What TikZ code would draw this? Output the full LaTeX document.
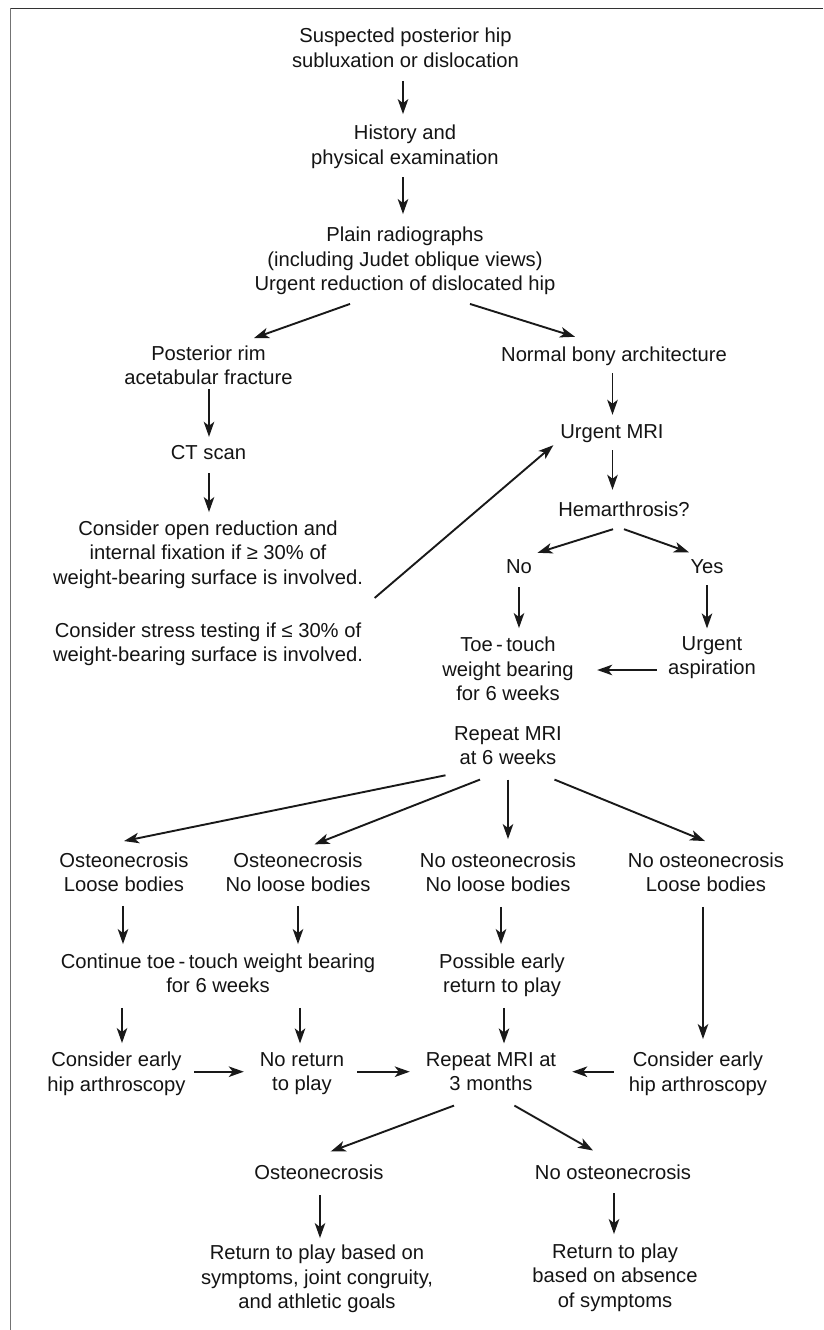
\documentclass[tikz,border=0pt]{standalone}
\usepackage{fontspec}
\setmainfont{Liberation Sans}
\usetikzlibrary{arrows.meta,calc}
\tikzset{
  txt/.style={align=center, inner sep=0pt, text=black!92,
    font=\fontsize{20.2}{24.5}\selectfont,
    execute at begin node=\strut, execute at end node=\strut},
  arr/.style={-{Stealth[length=15pt,width=10.5pt,inset=4pt]}, line width=1.9pt, draw=black!90},
  frametop/.style={line width=1.4pt, draw=black!80},
  frameleft/.style={line width=0.9pt, draw=black!55}
}
\begin{document}
\begin{tikzpicture}[x=1pt,y=-1pt]
\useasboundingbox (0,0) rectangle (823,1330);
\fill[white] (0,0) rectangle (823,1330);
% frame
\coordinate (fc) at (10.5,8.5);
\coordinate (ftr) at (823,8.5);
\coordinate (fbl) at (10.5,1330);
\draw[frametop] (fc) -- (ftr);
\draw[frameleft] (fc) -- (fbl);

% nodes
\node[txt] (susp) at (405.5,51.6) {Suspected posterior hip\\subluxation or dislocation};
\node[txt] (hist) at (405,148.6) {History and\\physical examination};
\node[txt] (plain) at (405,262.6) {Plain radiographs\\(including Judet oblique views)\\Urgent reduction of dislocated hip};
\node[txt] (post) at (208.5,369.1) {Posterior rim\\acetabular fracture};
\node[txt] (norm) at (614,356.6) {Normal bony architecture};
\node[txt] (umri) at (612,433.6) {Urgent MRI};
\node[txt] (ct) at (208.5,454.6) {CT scan};
\node[txt] (hem) at (624,511.1) {Hemarthrosis?};
\node[txt] (orif) at (208,556.1) {Consider open reduction and\\internal fixation if ≥ 30\% of\\weight-bearing surface is involved.};
\node[txt] (no) at (519,568.6) {No};
\node[txt] (yes) at (707,568.1) {Yes};
\node[txt] (stress) at (208,645.6) {Consider stress testing if ≤ 30\% of\\weight-bearing surface is involved.};
\node[txt] (toe) at (508,672.35) {Toe\,-\,touch\\weight bearing\\for 6 weeks};
\node[txt] (asp) at (712,659.1) {Urgent\\aspiration};
\node[txt] (rep6) at (508,749.35) {Repeat MRI\\at 6 weeks};
\node[txt] (a1) at (124,875.8) {Osteonecrosis\\Loose bodies};
\node[txt] (a2) at (298,875.8) {Osteonecrosis\\No loose bodies};
\node[txt] (a3) at (498,875.8) {No osteonecrosis\\No loose bodies};
\node[txt] (a4) at (706,875.8) {No osteonecrosis\\Loose bodies};
\node[txt] (cont) at (218,976.6) {Continue toe\,-\,touch weight bearing\\for 6 weeks};
\node[txt] (poss) at (502,976.6) {Possible early\\return to play};
\node[txt] (c1) at (116.5,1075.35) {Consider early\\hip arthroscopy};
\node[txt] (c2) at (302,1075.35) {No return\\to play};
\node[txt] (c3) at (491,1075.35) {Repeat MRI at\\3 months};
\node[txt] (c4) at (698,1075.35) {Consider early\\hip arthroscopy};
\node[txt] (d1) at (319,1174.6) {Osteonecrosis};
\node[txt] (d2) at (613,1174.6) {No osteonecrosis};
\node[txt] (e1) at (317,1280.6) {Return to play based on\\symptoms, joint congruity,\\and athletic goals};
\node[txt] (e2) at (615,1279.1) {Return to play\\based on absence\\of symptoms};

% connectors
\draw[arr] ($(susp.south)+(-2.5,5.9)$) -- ($(hist.north)+(-2,-11)$);
\draw[arr] ($(hist.south)+(-2,5)$) -- ($(plain.north)+(-2,-12.85)$);
\draw[arr] ($(plain.south)+(-55,5.65)$) -- ($(post.north)+(45.5,-7.6)$);
\draw[arr] ($(plain.south)+(65,5.65)$) -- ($(norm.north)+(-39,-7.35)$);
\draw[arr] ($(post.south)+(0.5,-3.6)$) -- ($(ct.north)+(0.5,-5.35)$);
\draw[arr] ($(ct.south)+(0.5,6)$) -- ($(orif.north)+(1,-8.35)$);
\draw[arr] ($(norm.south)+(-1.5,4)$) -- ($(umri.north)+(0.5,-6.35)$);
\draw[arr] ($(umri.south)+(0.5,4)$) -- ($(hem.north)+(-11.5,-8.85)$);
\draw[arr] ($(orif.south east)+(11.5,6.15)$) -- ($(umri.south west)+(-6.8,-0.85)$);
\draw[arr] ($(hem.south)+(-11,5.65)$) -- ($(no.north)+(18.5,-3.35)$);
\draw[arr] ($(hem.south)+(0,5.65)$) -- ($(yes.north)+(-18,-3.35)$);
\draw[arr] ($(no.south)+(0,6)$) -- ($(toe.north)+(11,-8.6)$);
\draw[arr] ($(yes.south)+(0,4.65)$) -- ($(asp.north)+(-5,-7.6)$);
\draw[arr] ($(asp.west)+(-11.2,10.9)$) -- ($(toe.east)+(23.3,-2.35)$);
\draw[arr] ($(rep6.south)+(-62.5,2.85)$) -- ($(a1.north)+(0,-11.3)$);
\draw[arr] ($(rep6.south)+(-28,7.15)$) -- ($(a2.north)+(16.5,-8)$);
\draw[arr] ($(rep6.south)+(0,7.15)$) -- ($(a3.north)+(10,-13.3)$);
\draw[arr] ($(rep6.south)+(46.5,7.15)$) -- ($(a4.north)+(-1,-11.3)$);
\draw[arr] ($(a1.south)+(-1,6.7)$) -- ($(cont.north)+(-95,-9.1)$);
\draw[arr] ($(a2.south)+(0,6.7)$) -- ($(cont.north)+(80,-9.1)$);
\draw[arr] ($(a3.south)+(3,7.7)$) -- ($(poss.north)+(-1,-9.1)$);
\draw[arr] ($(a4.south)+(-3,7.7)$) -- ($(c4.north)+(5,-12.85)$);
\draw[arr] ($(cont.south)+(-96,7.9)$) -- ($(c1.north)+(5.5,-8.85)$);
\draw[arr] ($(cont.south)+(82,7.9)$) -- ($(c2.north)+(-2,-8.85)$);
\draw[arr] ($(poss.south)+(2,7.9)$) -- ($(c3.north)+(13,-8.85)$);
\draw[arr] ($(c1.east)+(8.5,-3.65)$) -- ($(c2.west)+(-15.9,-3.65)$);
\draw[arr] ($(c2.east)+(12.9,-3.65)$) -- ($(c3.west)+(-15.9,-3.65)$);
\draw[arr] ($(c4.west)+(-15,-3.65)$) -- ($(c3.east)+(15.9,-3.65)$);
\draw[arr] ($(c3.south)+(-37,7.15)$) -- ($(d1.north)+(11.7,-10.65)$);
\draw[arr] ($(c3.south)+(23.4,7.15)$) -- ($(d2.north)+(-20,-11.65)$);
\draw[arr] ($(d1.south)+(1,8.15)$) -- ($(e1.north)+(3,-6.85)$);
\draw[arr] ($(d2.south)+(1,6.15)$) -- ($(e2.north)+(-1,-9.35)$);
\end{tikzpicture}
\end{document}
